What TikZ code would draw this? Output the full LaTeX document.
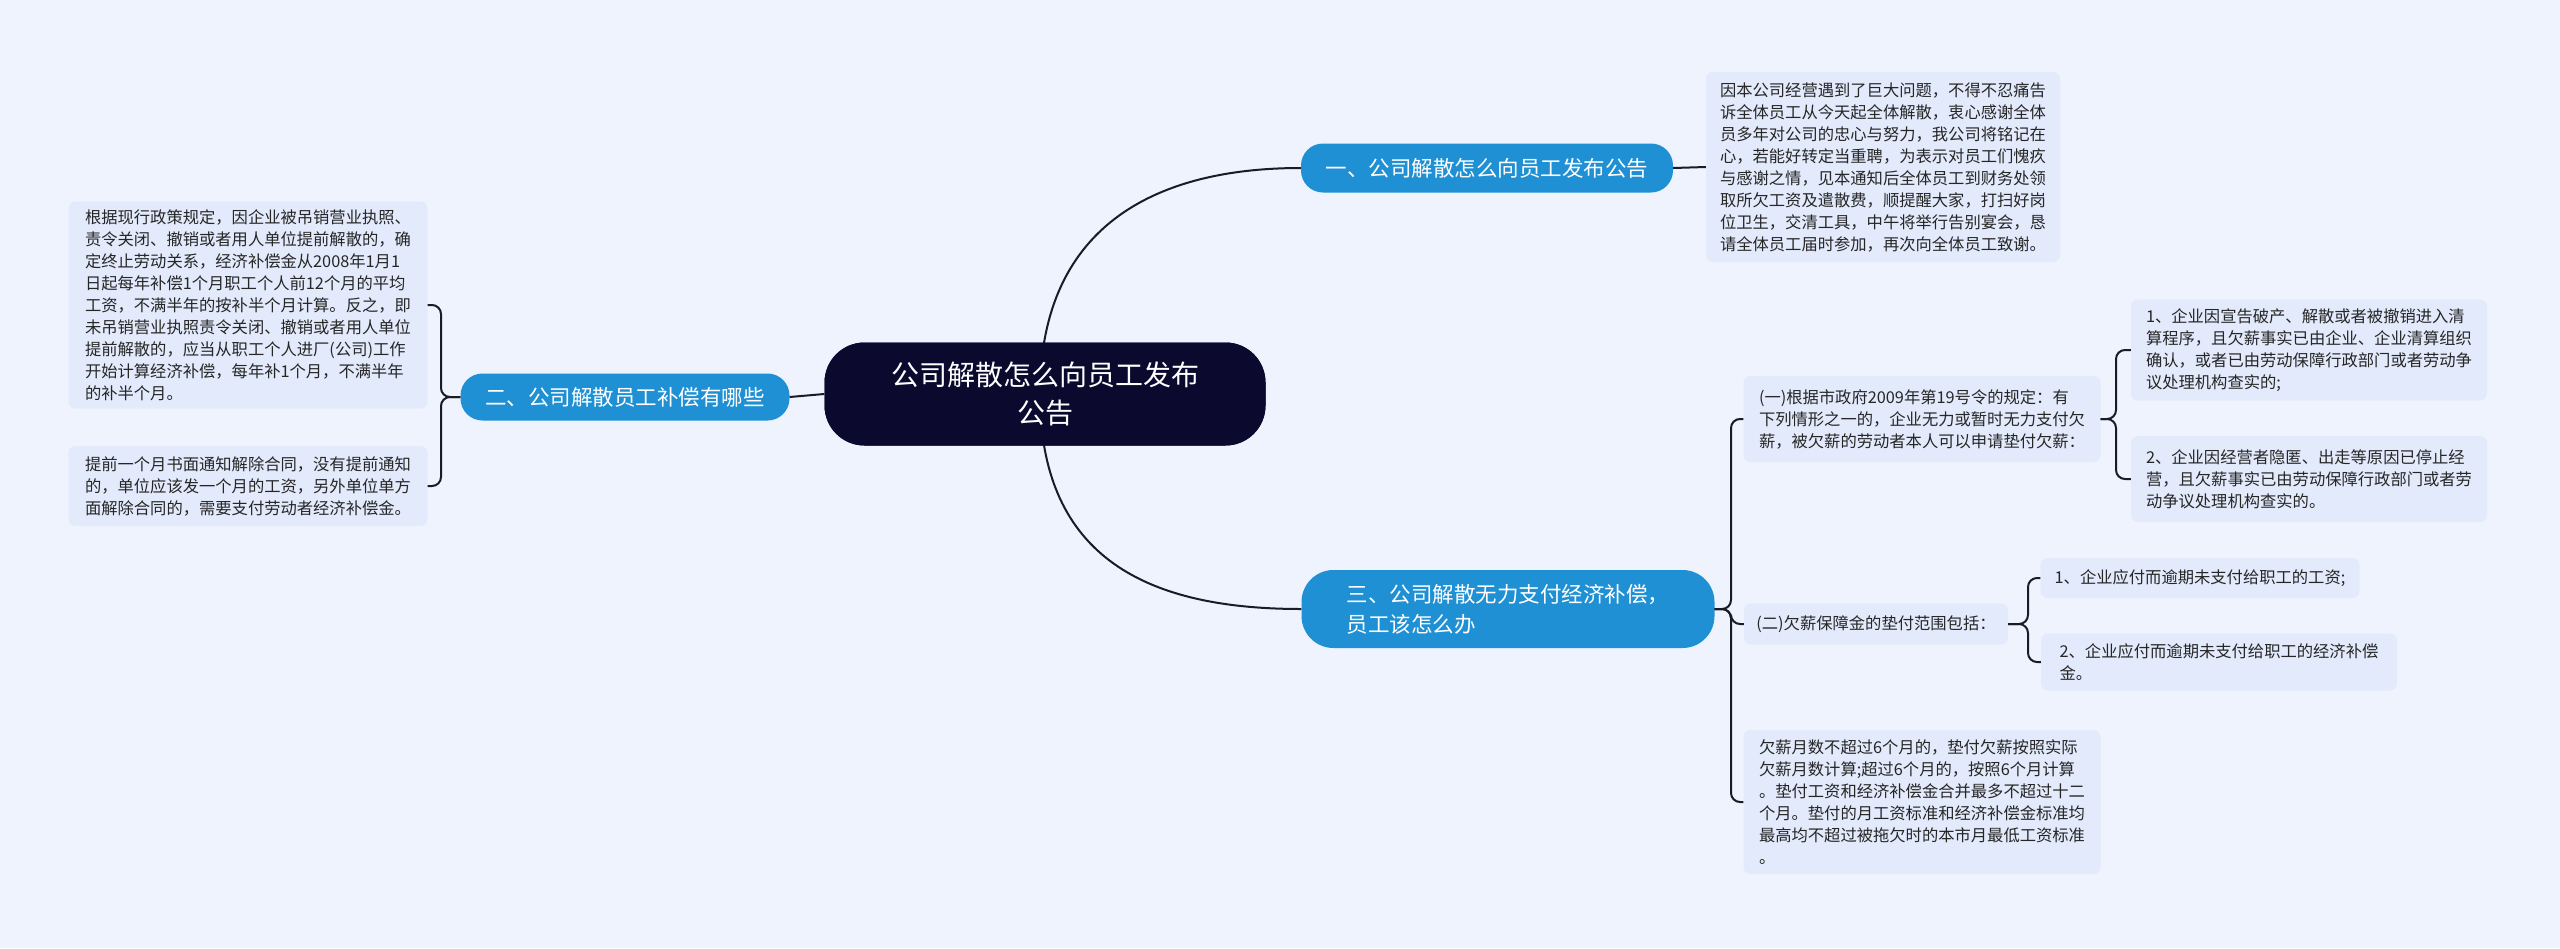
\documentclass[tikz,border=0pt]{standalone}
\usepackage{fontspec}
\setmainfont{Noto Sans CJK SC}
\begin{document}
\begin{tikzpicture}[x=1pt,y=-1pt,
  leaf/.style={fill=leafc,rounded corners=7pt,align=left,inner xsep=8pt,inner ysep=6pt,font=\fontsize{16.3}{22}\selectfont,text=black!85},
  branch/.style={fill=brc,rounded corners=22pt,text=white,align=left,font=\fontsize{21.5}{30}\selectfont,inner xsep=14pt},
  conn/.style={draw=linec,line width=2pt,rounded corners=9pt}]
\definecolor{bgc}{HTML}{EEF3FD}
\definecolor{leafc}{HTML}{E2EAFB}
\definecolor{brc}{HTML}{1E90D3}
\definecolor{ctr}{HTML}{0B0A2E}
\definecolor{linec}{HTML}{1A1A2A}
\fill[bgc] (0,0) rectangle (2560,948);
\useasboundingbox (0,0) rectangle (2560,948);
% nodes
\node[fill=ctr,rounded corners=40pt,minimum width=441pt,minimum height=103pt,text=white,align=center,font=\fontsize{28}{38}\selectfont] (c) at (1045,394) {公司解散怎么向员工发布\\公告};
\node[branch,minimum width=372pt,minimum height=49pt] (b1) at (1487,168) {一、公司解散怎么向员工发布公告};
\node[branch,minimum width=329pt,minimum height=47pt] (b2) at (625,397) {二、公司解散员工补偿有哪些};
\node[branch,minimum width=413pt,minimum height=78pt,rounded corners=32pt] (b3) at (1508,609) {三、公司解散无力支付经济补偿，\\员工该怎么办};
\node[leaf,minimum width=354pt,minimum height=190pt] (l1) at (1883,167) {因本公司经营遇到了巨大问题，不得不忍痛告\\诉全体员工从今天起全体解散，衷心感谢全体\\员多年对公司的忠心与努力，我公司将铭记在\\心，若能好转定当重聘，为表示对员工们愧疚\\与感谢之情，见本通知后全体员工到财务处领\\取所欠工资及遣散费，顺提醒大家，打扫好岗\\位卫生，交清工具，中午将举行告别宴会，恳\\请全体员工届时参加，再次向全体员工致谢。};
\node[leaf,minimum width=359pt,minimum height=207pt] (l2a) at (248,305) {根据现行政策规定，因企业被吊销营业执照、\\责令关闭、撤销或者用人单位提前解散的，确\\定终止劳动关系，经济补偿金从2008年1月1\\日起每年补偿1个月职工个人前12个月的平均\\工资，不满半年的按补半个月计算。反之，即\\未吊销营业执照责令关闭、撤销或者用人单位\\提前解散的，应当从职工个人进厂(公司)工作\\开始计算经济补偿，每年补1个月，不满半年\\的补半个月。};
\node[leaf,minimum width=359pt,minimum height=80pt] (l2b) at (248,486) {提前一个月书面通知解除合同，没有提前通知\\的，单位应该发一个月的工资，另外单位单方\\面解除合同的，需要支付劳动者经济补偿金。};
\node[leaf,minimum width=357pt,minimum height=86pt] (s3a) at (1922,419) {(一)根据市政府2009年第19号令的规定：有\\下列情形之一的，企业无力或暂时无力支付欠\\薪，被欠薪的劳动者本人可以申请垫付欠薪：};
\node[leaf,minimum width=356pt,minimum height=101pt] (a1) at (2309,350) {1、企业因宣告破产、解散或者被撤销进入清\\算程序，且欠薪事实已由企业、企业清算组织\\确认，或者已由劳动保障行政部门或者劳动争\\议处理机构查实的;};
\node[leaf,minimum width=356pt,minimum height=86pt] (a2) at (2309,479) {2、企业因经营者隐匿、出走等原因已停止经\\营，且欠薪事实已由劳动保障行政部门或者劳\\动争议处理机构查实的。};
\node[leaf,minimum width=264pt,minimum height=41pt] (s3b) at (1876,624) {(二)欠薪保障金的垫付范围包括：};
\node[leaf,minimum width=319pt,minimum height=40pt] (b31) at (2200,578) {1、企业应付而逾期未支付给职工的工资;};
\node[leaf,minimum width=356pt,minimum height=57pt] (b32) at (2219,662) {2、企业应付而逾期未支付给职工的经济补偿\\金。};
\node[leaf,minimum width=357pt,minimum height=144pt] (s3c) at (1922,802) {欠薪月数不超过6个月的，垫付欠薪按照实际\\欠薪月数计算;超过6个月的，按照6个月计算\\。垫付工资和经济补偿金合并最多不超过十二\\个月。垫付的月工资标准和经济补偿金标准均\\最高均不超过被拖欠时的本市月最低工资标准\\。};
% connectors
\begin{scope}[on background layer/.style={}]
\end{scope}
\draw[draw=linec,line width=2pt] (c.center) ++(-5,0) .. controls (1040,230) and (1150,168) .. (b1.west);
\draw[draw=linec,line width=2pt] (c.center) ++(-5,0) .. controls (1040,560) and (1150,609) .. (b3.west);
\node[fill=ctr,rounded corners=40pt,minimum width=441pt,minimum height=103pt,text=white,align=center,font=\fontsize{28}{38}\selectfont] at (1045,394) {公司解散怎么向员工发布\\公告};
\draw[conn] (c.west) -- (b2.east);
\draw[conn] (b1.east) -- (l1.west);
\draw[conn] (b2.west) -- (441,397) |- (l2a.east);
\draw[conn] (b2.west) -- (441,397) |- (l2b.east);
\draw[conn] (b3.east) -- (1731,609) |- (s3a.west);
\draw[conn] (b3.east) -- (1731,609) |- (s3b.west);
\draw[conn] (b3.east) -- (1731,609) |- (s3c.west);
\draw[conn] (s3a.east) -- (2116,419) |- (a1.west);
\draw[conn] (s3a.east) -- (2116,419) |- (a2.west);
\draw[conn] (s3b.east) -- (2028,624) |- (b31.west);
\draw[conn] (s3b.east) -- (2028,624) |- (b32.west);
\end{tikzpicture}
\end{document}
